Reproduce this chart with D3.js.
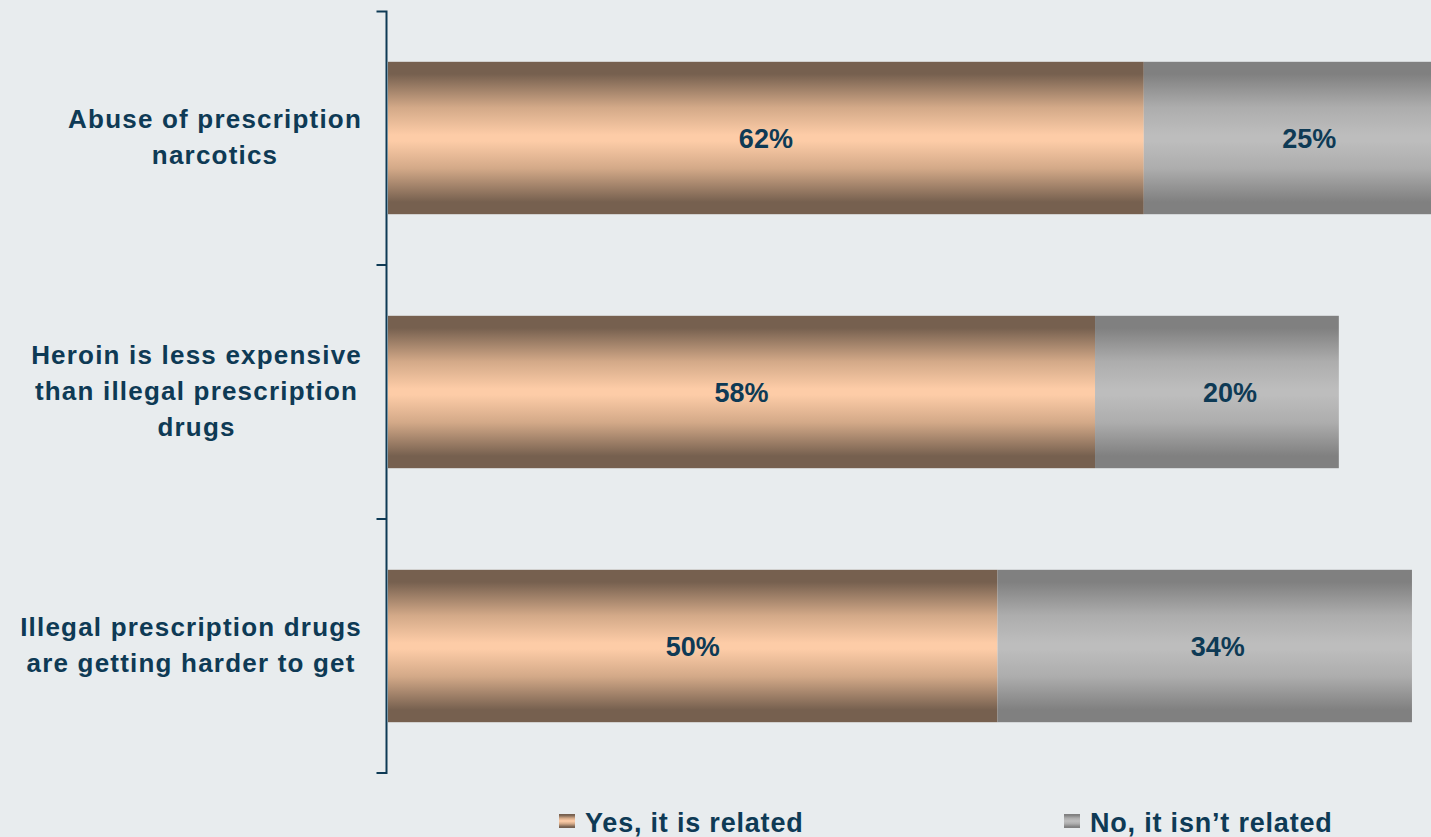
<!DOCTYPE html>
<html>
<head>
<meta charset="utf-8">
<script src="https://cdn.jsdelivr.net/npm/d3@7"></script>
<style>
  html, body { margin: 0; padding: 0; background: #e8ecee; }
  svg { display: block; }
</style>
</head>
<body>
<svg id="chart" width="1431" height="837"></svg>
<script>
// Survey responses: is the rise in heroin use related to each factor?
const categories = [
  ["Abuse of prescription", "narcotics"],
  ["Heroin is less expensive", "than illegal prescription", "drugs"],
  ["Illegal prescription drugs", "are getting harder to get"]
];
const seriesNames = ["Yes, it is related", "No, it isn\u2019t related"];
const yesValues = [62, 58, 50];
const noValues = [25, 20, 34];

const W = 1431, H = 837;
const textColor = "#0e3a55";
const font = "'Liberation Sans', Arial, sans-serif";
const svg = d3.select("#chart");
svg.append("rect").attr("width", W).attr("height", H).attr("fill", "#e8ecee");

// Vertical gradients for the two series
const defs = svg.append("defs");
function addGradient(id, edge, mid, soft) {
  const g = defs.append("linearGradient").attr("id", id)
    .attr("x1", 0).attr("y1", 0).attr("x2", 0).attr("y2", 1);
  [[0, edge], [0.08, edge], [0.3, soft], [0.48, mid], [0.52, mid], [0.7, soft], [0.92, edge], [1, edge]]
    .forEach(([o, c]) => g.append("stop").attr("offset", o).attr("stop-color", c));
}
addGradient("gradYes", "#76604f", "#fdcca7", "#d3a988");
addGradient("gradNo", "#808080", "#bdbdbd", "#adadad");
const fills = ["url(#gradYes)", "url(#gradNo)"];

const idx = d3.range(categories.length);
const y = d3.scaleBand().domain(idx).range([11, 773]).paddingInner(0.4).paddingOuter(0.2);
const x = d3.scaleLinear().domain([0, 100]).range([388, 388 + 1219]);

// Stacked segments
const rows = idx.map(i => ({ i, yes: yesValues[i], no: noValues[i] }));
const stack = d3.stack().keys(["yes", "no"])(rows);

stack.forEach((layer, s) => {
  const g = svg.append("g");
  g.selectAll("rect").data(layer).join("rect")
    .attr("x", d => x(d[0]))
    .attr("y", d => y(d.data.i))
    .attr("width", d => x(d[1]) - x(d[0]))
    .attr("height", y.bandwidth())
    .attr("fill", fills[s]);
  g.selectAll("text").data(layer).join("text")
    .attr("x", d => (x(d[0]) + x(d[1])) / 2 + (s === 1 ? 13 : 0))
    .attr("y", d => y(d.data.i) + y.bandwidth() / 2)
    .attr("dy", "0.36em")
    .attr("text-anchor", "middle")
    .attr("font-family", font)
    .attr("font-weight", "bold")
    .attr("font-size", 27)
    .attr("fill", textColor)
    .text(d => (d[1] - d[0]) + "%");
});

// Category axis on the left: a bracket with separator ticks
const axisG = svg.append("g").attr("transform", "translate(386.5,0)")
  .call(d3.axisLeft(y).tickSize(10).tickFormat(""));
axisG.select(".domain").attr("stroke", textColor).attr("stroke-width", 2)
  .attr("d", "M-10,11.5H0V773H-10");
axisG.selectAll(".tick").remove();
const bounds = idx.slice(1).map(i => y(i) - y.step() * y.paddingInner() / 2);
axisG.selectAll("line.sep").data(bounds).join("line").attr("class", "sep")
  .attr("x1", -10).attr("x2", 0).attr("y1", d => d).attr("y2", d => d)
  .attr("stroke", textColor).attr("stroke-width", 2);

// Category labels: lines centred within a block that is right-aligned to the axis
const labelRight = 362, lineH = 36;
idx.forEach(i => {
  const lines = categories[i];
  const g = svg.append("g");
  const cy = y(i) + y.bandwidth() / 2;
  const texts = lines.map((ln, k) => g.append("text")
    .attr("y", cy + (k - (lines.length - 1) / 2) * lineH)
    .attr("dy", "0.3em")
    .attr("text-anchor", "middle")
    .attr("font-family", font)
    .attr("font-weight", "bold")
    .attr("font-size", 26)
    .attr("letter-spacing", "1.2px")
    .attr("fill", textColor)
    .text(ln));
  const maxW = d3.max(texts, t => t.node().getComputedTextLength());
  texts.forEach(t => t.attr("x", labelRight - maxW / 2));
});

// Legend
const legendX = [559, 1064];
seriesNames.forEach((name, s) => {
  const g = svg.append("g").attr("transform", `translate(${legendX[s]},814)`);
  g.append("rect").attr("width", 16).attr("height", 14).attr("fill", fills[s]);
  g.append("text")
    .attr("x", 26).attr("y", 18)
    .attr("font-family", font)
    .attr("font-weight", "bold")
    .attr("font-size", 27)
    .attr("letter-spacing", "0.8px")
    .attr("fill", textColor)
    .text(name);
});
</script>
</body>
</html>
